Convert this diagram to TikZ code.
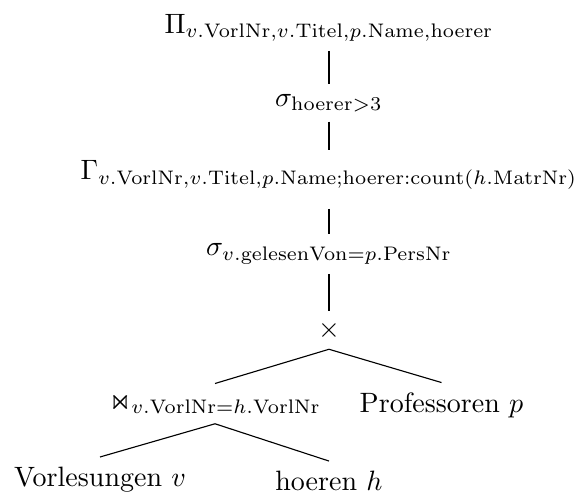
\documentclass[tikz,border=0pt]{standalone}
\usepackage{amsmath,amssymb}
\usetikzlibrary{positioning}

\begin{document}
\begin{tikzpicture}[
    opn/.style={anchor=base, inner sep=3.33pt},
    rel/.style={anchor=north, inner sep=3.33pt},
    edg/.style={thin}
]
\useasboundingbox (0,0) rectangle (7.24,-6.2);
% unary chain
\node[opn] (proj) at (4.128,-0.414) {$\Pi_{v.\mathrm{VorlNr},v.\mathrm{Titel},p.\mathrm{Name},\mathrm{hoerer}}$};
\node[opn] (selA) at (4.128,-1.330) {$\sigma_{\mathrm{hoerer}>3}$};
\node[opn] (grp) at (4.128,-2.246) {$\Gamma_{v.\mathrm{VorlNr},v.\mathrm{Titel},p.\mathrm{Name};\mathrm{hoerer}:\mathrm{count}(h.\mathrm{MatrNr})}$};
\node[opn] (selB) at (4.128,-3.212) {$\sigma_{v.\mathrm{gelesenVon}=p.\mathrm{PersNr}}$};
\node[opn] (cross) at (4.128,-4.229) {$\times$};
% binary part
\node[rel] (join) at (2.698,-4.812) {$\Join_{v.\mathrm{VorlNr}=h.\mathrm{VorlNr}}$};
\node[rel] (prof) at (5.540,-4.800) {Professoren $p$};
\node[rel] (vorl) at (1.255,-5.734) {Vorlesungen $v$};
\node[rel] (hoer) at (4.128,-5.785) {hoeren $h$};

\draw[edg] (proj.south) -- (selA.north);
\draw[edg] (selA.south) -- (grp.north);
\draw[edg, shorten <=3.6pt] (grp.south) -- (selB.north);
\draw[edg] (selB.south) -- (cross.north);
\draw[edg] (cross.south) -- (join.north);
\draw[edg] (cross.south) -- (prof.north);
\draw[edg] (join.south) -- (vorl.north);
\draw[edg] (join.south) -- (hoer.north);
\end{tikzpicture}
\end{document}
